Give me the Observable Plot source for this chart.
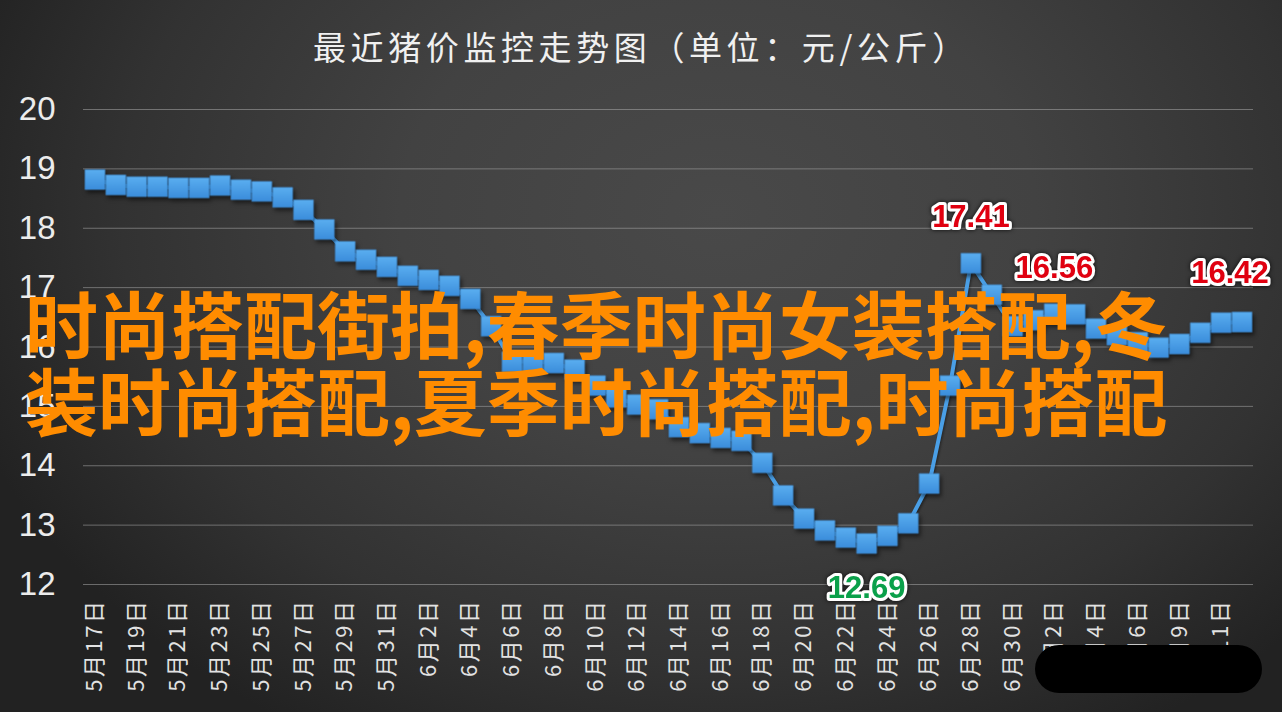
<!DOCTYPE html>
<html>
<head>
<meta charset="utf-8">
<script src="https://cdn.jsdelivr.net/npm/d3@7"></script>
<script src="https://cdn.jsdelivr.net/npm/@observablehq/plot@0.6"></script>
<style>
  html, body { margin: 0; padding: 0; }
  #page {
    position: relative; width: 1282px; height: 712px; overflow: hidden;
    background: radial-gradient(ellipse 62% 85% at 56% 30%, #494949 0%, #424242 40%, #323232 75%, #222222 100%);
    font-family: "Noto Sans CJK SC", sans-serif;
  }
  #title {
    position: absolute; left: 313px; top: 22px; width: 660px; text-align: left;
    color: #f0f0f0; font-size: 33px; letter-spacing: 4.6px; white-space: nowrap;
    font-family: "Noto Sans CJK SC", sans-serif;
  }
  #chart { position: absolute; left: 0; top: 85px; }
  #overlay {
    position: absolute; left: 25px; top: 283px; color: #ff8c00;
    font-size: 73px; line-height: 77px; font-weight: 700; white-space: nowrap;
    font-family: "Noto Sans CJK SC", sans-serif;
  }
  #blot {
    position: absolute; left: 1035px; top: 645px; width: 227px; height: 48px;
    border-radius: 24px; background: #000;
  }
</style>
</head>
<body>
<div id="page">
  <div id="title">最近猪价监控走势图（单位：元/公斤）</div>
  <div id="chart"></div>
  <div id="overlay">时尚搭配街拍,春季时尚女装搭配,冬<br>装时尚搭配,夏季时尚搭配,时尚搭配</div>
  <div id="blot"></div>
</div>
<script>
const dates = ["5月17日","5月18日","5月19日","5月20日","5月21日","5月22日","5月23日","5月24日","5月25日","5月26日","5月27日","5月28日","5月29日","5月30日","5月31日",
  "6月1日","6月2日","6月3日","6月4日","6月5日","6月6日","6月7日","6月8日","6月9日","6月10日","6月11日","6月12日","6月13日","6月14日","6月15日",
  "6月16日","6月17日","6月18日","6月19日","6月20日","6月21日","6月22日","6月23日","6月24日","6月25日","6月26日","6月27日","6月28日","6月29日","6月30日",
  "7月1日","7月2日","7月3日","7月4日","7月5日","7月6日","7月8日","7月9日","7月10日","7月11日","7月12日"];
const prices = [18.82,18.73,18.70,18.70,18.68,18.68,18.72,18.65,18.62,18.52,18.31,17.98,17.61,17.47,17.35,
  17.20,17.13,17.03,16.81,16.35,15.75,15.76,15.73,15.62,15.35,15.15,15.03,14.95,14.65,14.55,
  14.47,14.42,14.05,13.50,13.11,12.91,12.79,12.69,12.82,13.03,13.70,15.35,17.41,16.88,16.35,
  16.45,16.56,16.55,16.31,16.20,16.08,15.99,16.05,16.24,16.41,16.42];
const yTicks = [12,13,14,15,16,17,18,19,20];
const xTicks = ["5月17日","5月19日","5月21日","5月23日","5月25日","5月27日","5月29日","5月31日","6月2日","6月4日","6月6日","6月8日","6月10日","6月12日","6月14日","6月16日","6月18日","6月20日","6月22日","6月24日","6月26日","6月28日","6月30日","7月2日","7月4日","7月6日","7月9日","7月11日"];
const highDates = ["6月28日","7月2日"];
const highValues = [17.41, 16.56];
const lastDate = ["7月12日"];
const lastValue = [16.42];
const lowDates = ["6月23日"];
const lowValues = [12.69];

const data = dates.map((d, i) => ({date: d, price: prices[i]}));
const highs = highDates.map((d, i) => ({date: d, price: highValues[i]}));
const lasts = lastDate.map((d, i) => ({date: d, price: lastValue[i]}));
const lows = lowDates.map((d, i) => ({date: d, price: lowValues[i]}));

const labelStyle = {
  text: d => d.price.toFixed(2), fontSize: 31, fontWeight: "bold",
  fontFamily: "Liberation Sans, Arial, sans-serif",
  stroke: "white", strokeWidth: 6, paintOrder: "stroke", strokeLinejoin: "round"
};

const chart = Plot.plot({
  width: 1282, height: 627,
  marginTop: 24, marginBottom: 128, marginLeft: 83, marginRight: 29,
  style: {background: "transparent", color: "#e6e6e6", fontFamily: "Liberation Sans, Arial, sans-serif", overflow: "visible"},
  x: {type: "point", domain: dates, padding: 0.55, label: null},
  y: {domain: [12, 20], label: null},
  marks: [
    Plot.gridY(yTicks, {stroke: "#a8a8a8", strokeOpacity: 0.55, strokeWidth: 1}),
    Plot.axisY(yTicks, {tickSize: 0, tickPadding: 28, fontSize: 33, label: null, fill: "#ececec", tickFormat: "d"}),
    Plot.axisX(xTicks, {tickSize: 0, tickRotate: -90, tickPadding: 14, fontSize: 22, label: null,
      fontFamily: "Noto Sans CJK SC, sans-serif", fill: "#e2e2e2"}),
    Plot.line(data, {x: "date", y: "price", stroke: "#4a9fe6", strokeWidth: 4}),
    Plot.dot(data, {x: "date", y: "price", symbol: "square", r: 11.2, fill: "url(#sqGrad)", stroke: "#3f8fd6", strokeWidth: 0.6}),
    Plot.text(highs, {x: "date", y: "price", dy: -46, fill: "#e00010", ...labelStyle}),
    Plot.text(lasts, {x: "date", y: "price", dy: -49, dx: -12, fill: "#e00010", ...labelStyle}),
    Plot.text(lows, {x: "date", y: "price", dy: 45, fill: "#0aa04a", ...labelStyle})
  ]
});

const ns = "http://www.w3.org/2000/svg";
const defs = document.createElementNS(ns, "defs");
defs.innerHTML = `<linearGradient id="sqGrad" x1="0" y1="0" x2="0" y2="1">
  <stop offset="0" stop-color="#5aaef0"/><stop offset="1" stop-color="#3b8ddb"/></linearGradient>`;
chart.insertBefore(defs, chart.firstChild);
chart.querySelectorAll('g[aria-label="dot"]').forEach(g => g.style.filter = "drop-shadow(2px 3px 2px rgba(0,0,0,0.55))");
chart.querySelectorAll('g[aria-label="line"]').forEach(g => g.style.filter = "drop-shadow(1px 2px 1px rgba(0,0,0,0.4))");
chart.querySelectorAll('g[aria-label="text"]').forEach(g => g.style.filter = "drop-shadow(0px 0px 2px rgba(0,0,0,0.8))");
chart.querySelectorAll('g[aria-label="x-axis tick label"] text').forEach(t => t.style.letterSpacing = "2.5px");
document.getElementById("chart").appendChild(chart);
</script>
</body>
</html>
